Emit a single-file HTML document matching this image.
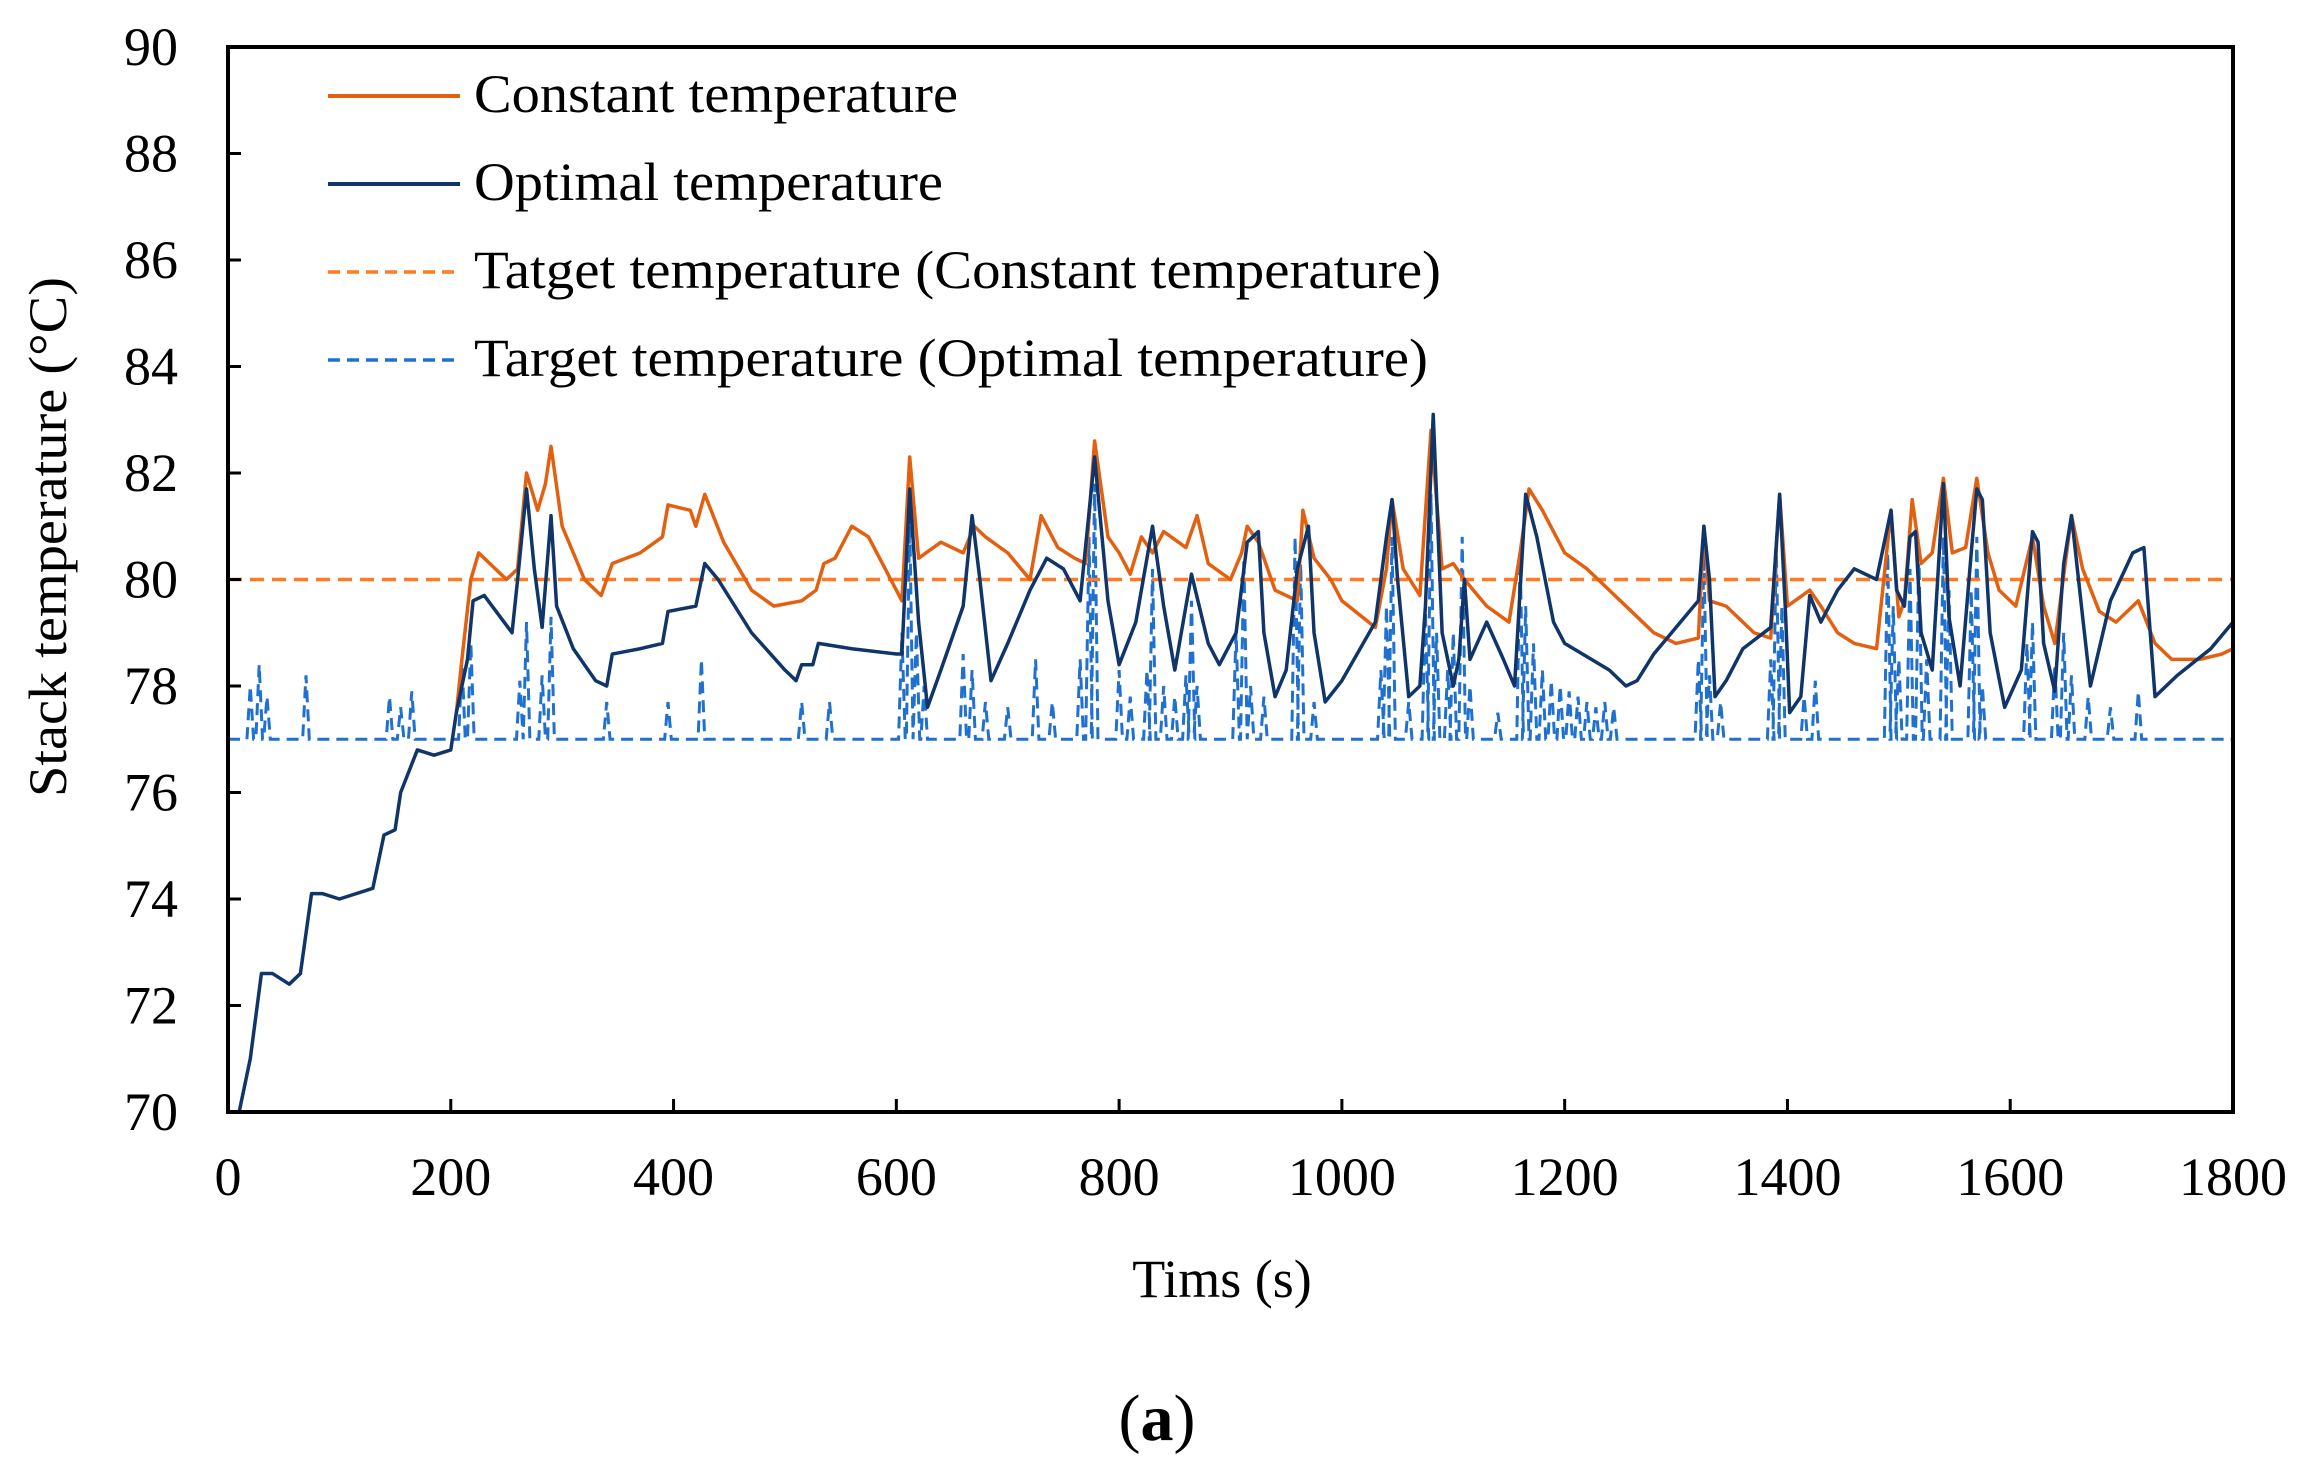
<!DOCTYPE html>
<html><head><meta charset="utf-8"><style>
html,body{margin:0;padding:0;background:#fff}
svg{display:block}
text{font-family:"Liberation Serif",serif;fill:#000}
</style></head><body>
<svg id="chart" width="2299" height="1473" viewBox="0 0 2299 1473" xmlns="http://www.w3.org/2000/svg">
<g id="marks"></g>
<rect x="228" y="47" width="2005" height="1065" fill="none" stroke="#000" stroke-width="4"/>
<g id="ticks"></g>
<text transform="rotate(-90 66 537)" x="66" y="537" font-size="54" text-anchor="middle" textLength="520" lengthAdjust="spacingAndGlyphs">Stack temperature (°C)</text>
<text x="1222" y="1297" font-size="54" text-anchor="middle">Tims (s)</text>
<text x="1157" y="1440" font-size="66" text-anchor="middle">(<tspan font-weight="bold">a</tspan>)</text>
<g>
<g>
<line x1="328" y1="96" x2="460" y2="96" stroke="#E2600F" stroke-width="4"/>
<text x="474" y="112" font-size="54" textLength="484" lengthAdjust="spacingAndGlyphs">Constant temperature</text></g>
<g>
<line x1="328" y1="184" x2="460" y2="184" stroke="#10356A" stroke-width="4"/>
<text x="474" y="200" font-size="54" textLength="469" lengthAdjust="spacingAndGlyphs">Optimal temperature</text></g>
<g>
<line x1="328" y1="272" x2="460" y2="272" stroke="#FF7A22" stroke-width="3.5" stroke-dasharray="12,7"/>
<text x="474" y="288" font-size="54" textLength="967" lengthAdjust="spacingAndGlyphs">Tatget temperature (Constant temperature)</text></g>
<g>
<line x1="328" y1="360" x2="460" y2="360" stroke="#2070D0" stroke-width="3.5" stroke-dasharray="12,7"/>
<text x="474" y="376" font-size="54" textLength="954" lengthAdjust="spacingAndGlyphs">Target temperature (Optimal temperature)</text></g>
</g>
</svg>
<script>
const xTicks=[0,200,400,600,800,1000,1200,1400,1600,1800];
const yTicks=[70,72,74,76,78,80,82,84,86,88,90];
const constTarget=80;
const optBase=77;
const optT=[0,10,15,20,30,40,55,65,75,85,100,130,140,150,155,170,185,200,205,215,220,230,255,260,268,275,282,290,295,310,330,340,345,370,390,395,420,428,440,470,500,510,515,525,530,560,600,605,612,620,628,640,660,668,675,685,700,720,735,750,765,778,790,800,815,830,840,850,865,880,890,905,915,925,930,940,950,960,970,975,985,1000,1030,1040,1045,1050,1060,1070,1075,1082,1090,1100,1105,1110,1115,1130,1145,1155,1165,1175,1190,1200,1240,1255,1265,1280,1300,1320,1325,1330,1335,1345,1360,1385,1393,1398,1402,1412,1420,1430,1445,1460,1480,1493,1498,1505,1510,1515,1520,1530,1540,1545,1555,1565,1570,1575,1582,1595,1610,1620,1625,1630,1640,1648,1655,1665,1672,1690,1710,1720,1730,1750,1780,1800];
const optV=[70,70,70.5,71,72.6,72.6,72.4,72.6,74.1,74.1,74,74.2,75.2,75.3,76,76.8,76.7,76.8,77.5,78.5,79.6,79.7,79,80,81.7,80.2,79.1,81.2,79.5,78.7,78.1,78,78.6,78.7,78.8,79.4,79.5,80.3,80,79,78.3,78.1,78.4,78.4,78.8,78.7,78.6,78.6,81.7,79.2,77.6,78.3,79.5,81.2,80,78.1,78.8,79.8,80.4,80.2,79.6,82.3,79.6,78.4,79.2,81,79.5,78.3,80.1,78.8,78.4,79,80.7,80.9,79,77.8,78.3,80.2,81,79,77.7,78.1,79.2,80.8,81.5,80,77.8,78,79.5,83.1,79,78,78.5,80,78.5,79.2,78.5,78,81.6,80.8,79.2,78.8,78.3,78,78.1,78.6,79.1,79.6,81,80,77.8,78.1,78.7,79.1,81.6,79.5,77.5,77.8,79.7,79.2,79.8,80.2,80,81.3,79.8,79.5,80.8,80.9,79,78.3,81.8,79.3,78,80.5,81.7,81.5,79,77.6,78.3,80.9,80.7,78.8,77.9,80.3,81.2,79.3,78,79.6,80.5,80.6,77.8,78.2,78.7,79.2];
const conT=[205,210,218,225,235,250,260,268,278,285,290,300,320,335,345,370,390,395,415,420,428,445,470,490,515,528,535,545,560,575,590,605,612,620,640,660,670,680,700,720,730,745,760,770,778,790,800,810,820,830,840,860,870,880,900,910,915,925,940,960,965,975,990,1000,1030,1040,1045,1055,1070,1080,1090,1100,1110,1130,1150,1160,1168,1180,1200,1220,1240,1260,1280,1300,1320,1325,1330,1345,1360,1370,1385,1393,1400,1420,1430,1445,1460,1480,1493,1500,1505,1512,1520,1530,1540,1548,1560,1570,1580,1590,1605,1620,1630,1640,1655,1665,1680,1695,1715,1730,1745,1770,1790,1800];
const conV=[77.5,78.5,80,80.5,80.3,80,80.2,82,81.3,81.8,82.5,81,80,79.7,80.3,80.5,80.8,81.4,81.3,81,81.6,80.7,79.8,79.5,79.6,79.8,80.3,80.4,81,80.8,80.2,79.6,82.3,80.4,80.7,80.5,81,80.8,80.5,80,81.2,80.6,80.4,80.3,82.6,80.8,80.5,80.1,80.8,80.5,80.9,80.6,81.2,80.3,80,80.5,81,80.7,79.8,79.6,81.3,80.4,80,79.6,79.1,80.2,81.5,80.2,79.7,82.8,80.2,80.3,80,79.5,79.2,80.5,81.7,81.3,80.5,80.2,79.8,79.4,79,78.8,78.9,81,79.6,79.5,79.2,79,78.9,81.6,79.5,79.8,79.5,79,78.8,78.7,81.3,79.3,79.6,81.5,80.3,80.5,81.9,80.5,80.6,81.9,80.5,79.8,79.5,80.8,79.5,78.8,81.2,80.2,79.4,79.2,79.6,78.8,78.5,78.5,78.6,78.7];
const spikeT=[20,28,35,70,145,155,165,210,218,262,268,282,290,340,395,425,515,540,605,612,618,625,660,668,680,700,725,740,765,773,778,800,810,825,830,840,850,860,865,870,905,912,918,930,958,963,975,1035,1040,1045,1060,1075,1080,1085,1095,1100,1108,1115,1140,1160,1165,1172,1180,1188,1196,1204,1212,1220,1228,1236,1244,1320,1325,1330,1340,1385,1390,1395,1415,1425,1490,1495,1500,1510,1518,1525,1540,1545,1565,1570,1575,1615,1620,1640,1648,1655,1670,1690,1715];
const spikeV=[78,78.4,77.8,78.2,77.8,77.6,77.9,78.5,78.8,78.1,79.2,78.2,79.3,77.7,77.7,78.5,77.7,77.7,79,81.2,79,78,78.6,78.3,77.7,77.6,78.5,77.7,78.5,80.8,81.8,78.3,77.8,78.3,80.2,78,77.8,78.2,79.6,78,79,80.4,78,77.8,80.8,80.3,77.7,78.3,79.5,80.8,77.7,79.4,81.6,79,78.3,79,80.8,78,77.5,80.5,79.5,78.8,78.3,78.1,78,77.9,77.8,77.7,77.6,77.7,77.6,78.5,80.5,78.2,77.7,78.5,80.6,79.5,77.8,78.1,80.5,79.5,78.5,80.2,80.5,78.5,80.8,79.8,79.8,80.8,78,78.8,79.2,78.4,79,78.2,77.8,77.6,77.9];

const L=228,R=2233,T=47,B=1112,NS='http://www.w3.org/2000/svg';
const xs=t=>L+(t/1800)*(R-L);
const ys=v=>B-((v-70)/20)*(B-T);
const marks=document.getElementById('marks'),ticks=document.getElementById('ticks');
function mk(tag,attrs,parent){const e=document.createElementNS(NS,tag);for(const k in attrs)e.setAttribute(k,attrs[k]);parent.appendChild(e);return e;}

xTicks.forEach(t=>{
  const ln=mk('line',{x1:xs(t),x2:xs(t),y1:B,y2:B-13,stroke:'#000','stroke-width':3},ticks);
  
  
  const tx=mk('text',{x:xs(t),y:1195,'font-size':54,'text-anchor':'middle'},ticks);
  tx.textContent=t;
  
  
});
yTicks.forEach(v=>{
  const ln=mk('line',{x1:L,x2:L+13,y1:ys(v),y2:ys(v),stroke:'#000','stroke-width':3},ticks);
  
  
  const tx=mk('text',{x:178,y:ys(v)+18,'font-size':54,'text-anchor':'end'},ticks);
  tx.textContent=v;
  
  
});

let tp=[[0,optBase]];
spikeT.forEach((t,i)=>{tp.push([t-3,optBase],[t,spikeV[i]],[t+3,optBase]);});
tp.push([1800,optBase]);
const pTgtOpt=mk('polyline',{points:tp.map(p=>xs(p[0])+','+ys(p[1])).join(' '),fill:'none',stroke:'#2070D0','stroke-width':3,'stroke-dasharray':'12,7'},marks);



const pTgtCon=mk('line',{x1:L,x2:R,y1:ys(constTarget),y2:ys(constTarget),stroke:'#FF7A22','stroke-width':3.5,'stroke-dasharray':'14,8'},marks);



const pCon=mk('polyline',{points:conT.map((t,i)=>xs(t)+','+ys(conV[i])).join(' '),fill:'none',stroke:'#E2600F','stroke-width':3.5,'stroke-linejoin':'round'},marks);



const pOpt=mk('polyline',{points:optT.map((t,i)=>xs(t)+','+ys(optV[i])).join(' '),fill:'none',stroke:'#10356A','stroke-width':3.5,'stroke-linejoin':'round'},marks);


</script>
</body></html>
